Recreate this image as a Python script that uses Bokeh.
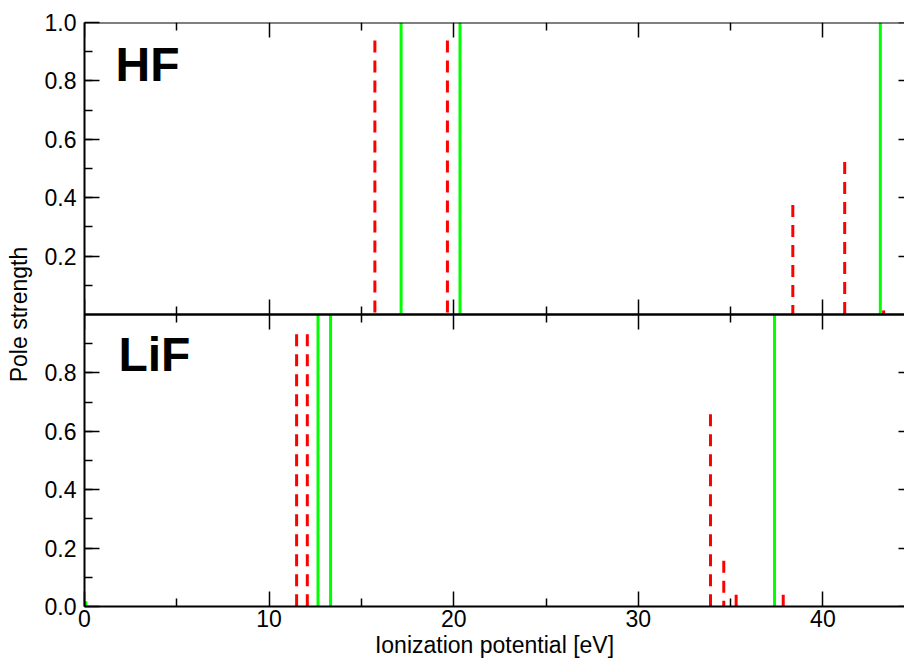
from bokeh.plotting import figure
from bokeh.models import (Range1d, LinearAxis, FixedTicker, Label, ColumnDataSource)
from bokeh.embed import file_html
from bokeh.resources import INLINE

# ---- data ----
hf_gw_x = [15.73, 19.66, 38.37, 41.18, 43.29]
hf_gw_s = [0.938, 0.938, 0.375, 0.522, 0.014]
hf_hf_x = [17.15, 20.34, 43.11]
hf_hf_s = [1.0, 1.0, 1.0]

lif_gw_x = [11.49, 12.07, 33.91, 34.63, 35.30, 37.85]
lif_gw_s = [0.932, 0.932, 0.658, 0.157, 0.040, 0.040]
lif_hf_x = [0.07, 12.65, 13.33, 37.38]
lif_hf_s = [0.018, 1.0, 1.0, 1.0]

x_ticks = [0, 10, 20, 30, 40]
x_minor = [5, 15, 25, 35]
lif_yticks = [0.0, 0.2, 0.4, 0.6, 0.8]
hf_yticks = [0.2, 0.4, 0.6, 0.8, 1.0]
y_minor = [0.1, 0.2, 0.3, 0.4, 0.5, 0.6, 0.7, 0.8, 0.9]
x_max = 44.42

FONT = "Liberation Sans"
RED = "#ff0000"
GREEN = "#00ff00"

# LiF panel uses the default y range (lower half), HF panel an extra range (upper half)
lif_range = Range1d(0, 2)
hf_range = Range1d(-1, 1)
hf_offset = lif_range.start - hf_range.start  # HF value v sits at v + offset on the LiF scale

p = figure(width=904, height=662, x_range=Range1d(0, x_max), y_range=lif_range,
           min_border_left=84, min_border_right=0, min_border_top=22, min_border_bottom=56,
           output_backend="svg", toolbar_location=None,
           x_axis_location=None, y_axis_location=None,
           outline_line_color=None, background_fill_color="white", border_fill_color="white")
p.extra_y_ranges = {"hf": hf_range}

# ---- glyphs ----
src_hf_gw = ColumnDataSource(dict(x=hf_gw_x, s=hf_gw_s))
src_hf_hf = ColumnDataSource(dict(x=hf_hf_x, s=hf_hf_s))
src_lif_gw = ColumnDataSource(dict(x=lif_gw_x, s=lif_gw_s))
src_lif_hf = ColumnDataSource(dict(x=lif_hf_x, s=lif_hf_s))

p.segment(x0="x", y0="s", x1="x", y1=0, source=src_hf_gw, y_range_name="hf",
          line_color=RED, line_width=3, line_dash="12 8")
p.segment(x0="x", y0="s", x1="x", y1=0, source=src_hf_hf, y_range_name="hf",
          line_color=GREEN, line_width=3)
p.segment(x0="x", y0="s", x1="x", y1=0, source=src_lif_gw,
          line_color=RED, line_width=3, line_dash="12 8")
p.segment(x0="x", y0="s", x1="x", y1=0, source=src_lif_hf,
          line_color=GREEN, line_width=3)

xticker = FixedTicker(ticks=x_ticks, minor_ticks=x_minor)


def style(ax, tin=15, tout=0, mtin=8, mtout=0, labels=True, line=True):
    ax.major_tick_in = tin
    ax.major_tick_out = tout
    ax.minor_tick_in = mtin
    ax.minor_tick_out = mtout
    ax.major_tick_line_color = "black"
    ax.minor_tick_line_color = "black"
    ax.major_tick_line_width = 1.5
    ax.minor_tick_line_width = 1.5
    ax.axis_line_color = "black" if line else None
    ax.axis_line_width = 2
    ax.major_label_text_font = FONT
    ax.major_label_text_font_size = "23px"
    ax.major_label_text_color = "black" if labels else None
    ax.axis_label_text_font = FONT
    ax.axis_label_text_font_size = "23px"
    ax.axis_label_text_font_style = "normal"
    ax.axis_label_text_color = "black"


# bottom axis (LiF panel)
bottom = LinearAxis(ticker=xticker, axis_label="Ionization potential [eV]")
style(bottom)
bottom.major_label_standoff = 3
bottom.axis_label_standoff = 2
p.add_layout(bottom, "below")

# boundary between panels: ticks in both directions
mid = LinearAxis(ticker=xticker, y_range_name="hf", fixed_location=0.0)
style(mid, tin=15, tout=15, mtin=8, mtout=8, labels=False)
mid.axis_line_width = 2.5
p.add_layout(mid, "below")

# top axis (HF panel)
top = LinearAxis(ticker=xticker, y_range_name="hf", fixed_location=1.0)
style(top, labels=False)
p.add_layout(top, "above")

# left axis: both panels' ticks on one scale, labels show each panel's own values
left_major = lif_yticks + [t + hf_offset for t in hf_yticks]
left_minor = y_minor + [t + hf_offset for t in y_minor]
overrides = {t: f"{t:.1f}" for t in lif_yticks}
overrides.update({t + hf_offset: f"{t:.1f}" for t in hf_yticks})
left = LinearAxis(ticker=FixedTicker(ticks=left_major, minor_ticks=left_minor),
                  axis_label="Pole strength", major_label_overrides=overrides)
style(left)
left.major_label_standoff = 8
left.axis_label_standoff = 10
p.add_layout(left, "left")

# right axis (its spine lies just beyond the visible area; only tick tips show)
right = LinearAxis(ticker=FixedTicker(ticks=left_major), fixed_location=x_max)
style(right, tin=6, tout=0, mtin=0, mtout=0, labels=False, line=False)
p.add_layout(right, "right")

# panel labels
p.add_layout(Label(x=1.68, y=0.855, y_range_name="hf", text="HF",
                   text_font=FONT, text_font_size="48px", text_font_style="bold",
                   text_baseline="alphabetic", text_color="black"))
p.add_layout(Label(x=1.84, y=0.863, text="LiF",
                   text_font=FONT, text_font_size="48px", text_font_style="bold",
                   text_baseline="alphabetic", text_color="black"))

p.grid.visible = False

open("out.html", "w").write(file_html(p, INLINE))
